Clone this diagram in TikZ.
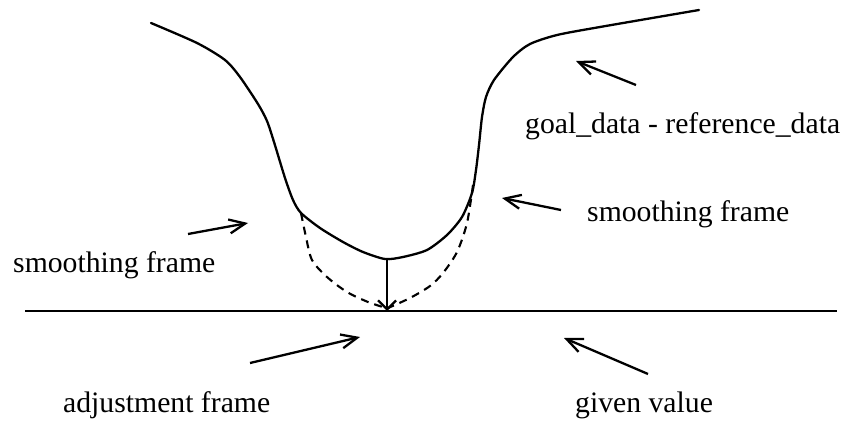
\documentclass[tikz,border=0pt]{standalone}
\usepackage{fontspec}
\setmainfont{Liberation Serif}
\usetikzlibrary{arrows.meta}
\begin{document}
\begin{tikzpicture}[x=1pt,y=-1pt,
  curve/.style={line width=2.3pt,line join=round,line cap=round},
  dashcurve/.style={line width=2.1pt,dash pattern=on 8pt off 6pt},
  pointer/.style={line width=2.3pt,-{Straight Barb[length=16pt,width=14pt,line width=2.3pt]}},
  lbl/.style={anchor=base west,inner sep=0pt,font=\fontsize{29.7}{34}\selectfont}]
\useasboundingbox (0,0) rectangle (848,422);
% main curve
\draw[curve] plot[smooth,tension=0.45] coordinates {(151,23) (197,43) (225,60) (240,77) (258,104) (267,121) (274,142) (285,178) (293,200) (301,213) (320,228) (343,242) (363,252) (385,259) (403,257) (427,250) (447,235) (462,217) (472,193) (476,170) (479,145) (482,117) (486,97) (494,80) (513,57) (530,44) (557,35) (600,27) (699,10)};
% dashed smoothing curves
\draw[dashcurve] plot[smooth,tension=0.5] coordinates {(301,213) (306,237) (312,260) (327,277) (347,292) (368,302) (386,308)};
\draw[dashcurve] plot[smooth,tension=0.5] coordinates {(473,185) (467,223) (457,252) (443,273) (430,286) (410,298) (388,308)};
% axis
\coordinate (axL) at (25,311);
\coordinate (axR) at (837,311);
\draw[line width=2.3pt] (axL) -- (axR);
% adjustment
\coordinate (vtop) at (387,259);
\coordinate (vbot) at (387,311);
\draw[line width=2.3pt,-{Straight Barb[length=9pt,width=18pt,line width=2.3pt]}] (vtop) -- (vbot);
% labels
\node[lbl] (goal) at (525,134) {goal\_data - reference\_data};
\node[lbl] (smR) at (587,222) {smoothing frame};
\node[lbl] (smL) at (13,272) {smoothing frame};
\node[lbl] (adj) at (63,412) {adjustment frame};
\node[lbl] (giv) at (575,412) {given value};
% pointers
\coordinate (gA) at (636,85); \coordinate (gB) at (576,61);
\coordinate (sRA) at (561,210); \coordinate (sRB) at (502,198);
\coordinate (sLA) at (188,234); \coordinate (sLB) at (248,223);
\coordinate (aA) at (250,363); \coordinate (aB) at (360,337);
\coordinate (vA) at (648,374); \coordinate (vB) at (564,338);
\draw[pointer] (gA) -- (gB);
\draw[pointer] (sRA) -- (sRB);
\draw[pointer] (sLA) -- (sLB);
\draw[pointer] (aA) -- (aB);
\draw[pointer] (vA) -- (vB);
\end{tikzpicture}
\end{document}
